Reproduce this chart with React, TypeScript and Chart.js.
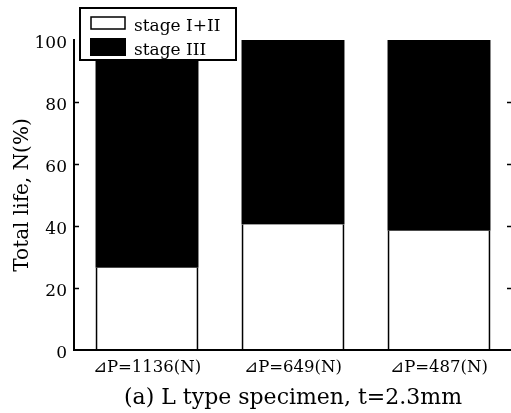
import React, { useEffect, useRef } from 'react';
import { Chart, registerables } from 'chart.js';

Chart.register(...registerables);

const categories = ['⊿P=1136(N)', '⊿P=649(N)', '⊿P=487(N)'];
const stage12 = [26.5, 40.5, 38.5];
const stage3 = [73.5, 59.5, 61.5];
const yTicks = [0, 20, 40, 60, 80, 100];
const legendLabels = ['stage I+II', 'stage III'];
const yTitle = 'Total life, N(%)';
const xTitle = '(a) L type specimen, t=2.3mm';

const FONT = "'DejaVu Serif', 'Liberation Serif', serif";

const framePlugin = {
  id: 'frame',
  afterDraw(chart: any) {
    const { ctx, chartArea } = chart;
    const y = chart.scales.y;
    const { left, right, bottom } = chartArea;
    ctx.save();
    ctx.strokeStyle = '#000';
    ctx.lineWidth = 2;
    ctx.beginPath();
    ctx.moveTo(left, y.getPixelForValue(100) - 1);
    ctx.lineTo(left, bottom);
    ctx.lineTo(right, bottom);
    ctx.stroke();
    ctx.lineWidth = 1.5;
    yTicks.forEach((v) => {
      if (v === 0 || v === 100) return;
      const py = Math.round(y.getPixelForValue(v)) + 0.5;
      ctx.beginPath();
      ctx.moveTo(left, py);
      ctx.lineTo(left + 5, py);
      ctx.moveTo(right - 5, py);
      ctx.lineTo(right, py);
      ctx.stroke();
    });
    // legend
    const lx = 80, ly = 8, lw = 156, lh = 52;
    ctx.fillStyle = '#fff';
    ctx.fillRect(lx, ly, lw, lh);
    ctx.lineWidth = 2;
    ctx.strokeStyle = '#000';
    ctx.strokeRect(lx, ly, lw, lh);
    ctx.lineWidth = 1.5;
    ctx.strokeRect(91, 17, 34, 12);
    ctx.fillStyle = '#000';
    ctx.fillRect(90, 38, 36, 18);
    ctx.font = `17px ${FONT}`;
    ctx.textBaseline = 'alphabetic';
    ctx.textAlign = 'left';
    ctx.fillText(legendLabels[0], 134, 31);
    ctx.fillText(legendLabels[1], 134, 55);
    ctx.restore();
  },
};

export default function App() {
  const ref = useRef<HTMLCanvasElement>(null);
  useEffect(() => {
    document.body.style.margin = '0';
    document.body.style.overflow = 'hidden';
    const chart = new Chart(ref.current as HTMLCanvasElement, {
      type: 'bar',
      data: {
        labels: categories,
        datasets: [
          {
            label: legendLabels[0],
            data: stage12,
            backgroundColor: '#fff',
            borderColor: '#000',
            borderWidth: { left: 2, right: 2, top: 0, bottom: 0 },
            borderSkipped: false,
            categoryPercentage: 1,
            barPercentage: 0.705,
          },
          {
            label: legendLabels[1],
            data: stage3,
            backgroundColor: '#000',
            borderWidth: 0,
            categoryPercentage: 1,
            barPercentage: 0.705,
          },
        ],
      },
      options: {
        responsive: false,
        animation: false,
        devicePixelRatio: 1,
        layout: { padding: { left: 0, right: 8, top: 40, bottom: 0 } },
        plugins: { legend: { display: false }, tooltip: { enabled: false } },
        scales: {
          x: {
            stacked: true,
            grid: { display: false, drawTicks: false },
            border: { display: false },
            ticks: { color: '#000', font: { family: FONT, size: 16.5 }, padding: 8, maxRotation: 0 },
            title: { display: true, text: xTitle, color: '#000', font: { family: FONT, size: 22 }, padding: { top: 0, bottom: 2 } },
            afterFit: (s: any) => { s.height = 63; },
          },
          y: {
            stacked: true,
            min: 0,
            max: 100,
            grid: { display: false, drawTicks: false },
            border: { display: false },
            ticks: { stepSize: 20, color: '#000', font: { family: FONT, size: 17 }, padding: 7, labelOffset: 4 },
            title: { display: true, text: yTitle, color: '#000', font: { family: FONT, size: 20 }, padding: { top: 11, bottom: 0 } },
            afterFit: (s: any) => { s.width = 74; },
          },
        },
      },
      plugins: [framePlugin],
    });
    return () => chart.destroy();
  }, []);
  return (
    <div style={{ width: 511, height: 413, overflow: 'hidden', position: 'relative' }}>
      <canvas ref={ref} width={520} height={413} style={{ position: 'absolute', left: 0, top: 0 }} />
    </div>
  );
}
